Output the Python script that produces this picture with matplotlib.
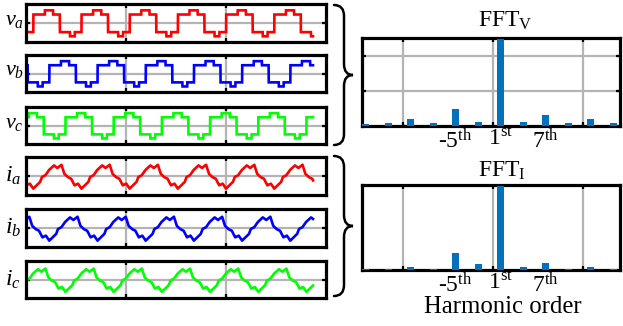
import numpy as np
import matplotlib
matplotlib.use("Agg")
import matplotlib.pyplot as plt
from matplotlib.path import Path
from matplotlib.patches import PathPatch

plt.rcParams['font.family'] = ['Liberation Serif', 'DejaVu Serif']
plt.rcParams['mathtext.fontset'] = 'custom'
plt.rcParams['mathtext.rm'] = 'Liberation Serif'
plt.rcParams['mathtext.it'] = 'Liberation Serif:italic'

W, H = 623, 326

# ---------------- data ----------------
# time axis in ms
t_end = 57.4
period = 9.64
t_limits = (0, 60)
t_grid = [20, 40]

# one period of the stepped phase voltage: segment length (fraction of period) and level
v_seg_len = [0.24, 0.17, 0.14, 0.21, 0.10, 0.14]
v_seg_lvl = [0.67, 1.00, 0.67, -0.72, -1.05, -0.72]

# one period of the phase current: phase (fraction of period) and value
i_phase = [0.000, 0.071, 0.143, 0.179, 0.250, 0.321, 0.429, 0.500,
           0.586, 0.643, 0.714, 0.786, 0.857, 0.929]
i_value = [-1.00, -0.74, -0.47, -0.08, 0.05, 0.45, 0.84, 0.63,
           0.89, 0.18, -0.08, -0.21, -0.74, -0.60]

# phase position of each waveform at t = 0 (fraction of period)
v_start = [0.849, 0.516, 0.182]
i_start = [0.850, 0.517, 0.183]

phase_names = ['a', 'b', 'c']
phase_colors = ['#ff0000', '#0000ff', '#00ff00']

# harmonic spectra (normalised to the fundamental)
orders = [-17, -14, -11, -8, -5, -2, 1, 4, 7, 10, 13, 16]
fft_v = [0.02, 0.04, 0.075, 0.04, 0.19, 0.05, 1.0, 0.045, 0.124, 0.03, 0.075, 0.04]
fft_i = [0.01, 0.01, 0.03, 0.016, 0.20, 0.07, 1.0, 0.04, 0.08, 0.01, 0.03, 0.01]
order_ticks = [-5, 1, 7]
order_labels = [r'-$5^{\rm th}$', r'$1^{\rm st}$', r'$7^{\rm th}$']
order_grid = [-12, 0, 12]
order_limits = (-17.5, 16.9)

# ---------------- helpers ----------------
t = np.linspace(0, t_end, 6000)
seg_edges = np.concatenate([[0], np.cumsum(v_seg_len)])


def stepped_voltage(start):
    ph = (t / period + start) % 1.0
    idx = np.clip(np.searchsorted(seg_edges, ph, side='right') - 1, 0, len(v_seg_lvl) - 1)
    return np.asarray(v_seg_lvl)[idx]


def phase_current(start):
    ph = (t / period + start) % 1.0
    return np.interp(ph, i_phase, i_value, period=1.0)


def px_axes(left, top, right, bottom):
    return fig.add_axes([left / W, 1 - bottom / H, (right - left) / W, (bottom - top) / H])


GRID_C = '#b4b4b4'


def style_wave_axes(ax):
    ax.set_xlim(*t_limits)
    ax.set_ylim(-1.5, 1.5)
    ax.set_xticks(t_grid)
    ax.set_yticks([0])
    ax.set_xticklabels([])
    ax.set_yticklabels([])
    ax.tick_params(direction='in', length=3, width=1.6, top=True, right=True, color='black')
    ax.grid(True, color=GRID_C, lw=1.6)
    ax.set_axisbelow(True)
    for s in ax.spines.values():
        s.set_linewidth(2.3)


fig = plt.figure(figsize=(W / 100, H / 100), dpi=100)

# ---------------- waveform panels ----------------
v_boxes = [(4, 42), (55, 92), (107, 144)]
i_boxes = [(157, 195), (209, 247), (261, 298)]

for k in range(3):
    top, bot = v_boxes[k]
    ax = px_axes(26, top, 326, bot)
    ax.plot(t, stepped_voltage(v_start[k]), color=phase_colors[k], lw=1.9,
            solid_joinstyle='miter')
    style_wave_axes(ax)
    yc = (top + bot) / 2
    fig.text(5 / W, 1 - (yc + 2) / H, rf'$v_{{{phase_names[k]}}}$', fontsize=16,
             ha='left', va='baseline', zorder=10)

for k in range(3):
    top, bot = i_boxes[k]
    ax = px_axes(26, top, 326, bot)
    ax.plot(t, phase_current(i_start[k]), color=phase_colors[k], lw=1.9)
    style_wave_axes(ax)
    yc = (top + bot) / 2
    fig.text(5 / W, 1 - (yc + 6) / H, rf'$i_{{{phase_names[k]}}}$', fontsize=17,
             ha='left', va='baseline', zorder=10)

# ---------------- braces ----------------


def brace(x_end, x_stem, x_tip, y_top, y_bot, r=11):
    ym = (y_top + y_bot) / 2
    pts = [(x_end, y_top), (x_stem, y_top), (x_stem, y_top + r),
           (x_stem, ym - r), (x_stem, ym), (x_tip, ym),
           (x_stem, ym), (x_stem, ym + r),
           (x_stem, y_bot - r), (x_stem, y_bot), (x_end, y_bot)]
    codes = [Path.MOVETO, Path.CURVE3, Path.CURVE3,
             Path.LINETO, Path.CURVE3, Path.CURVE3,
             Path.CURVE3, Path.CURVE3,
             Path.LINETO, Path.CURVE3, Path.CURVE3]
    verts = [(x / W, 1 - y / H) for x, y in pts]
    fig.add_artist(PathPatch(Path(verts, codes), transform=fig.transFigure,
                             fill=False, lw=1.8, color='black', capstyle='round'))


brace(334, 344, 353, 5, 145)
brace(334, 344, 353, 156, 296)

# ---------------- spectra ----------------


def style_fft_axes(ax, ygrid):
    ax.set_xlim(*order_limits)
    ax.set_ylim(0, 1.01)
    ax.set_xticks(order_grid)
    ax.set_xticklabels([])
    ax.set_xticks(order_ticks, minor=True)
    ax.set_xticklabels(order_labels, minor=True, fontsize=17)
    ax.tick_params(which='minor', length=0, pad=2)
    ax.tick_params(which='major', direction='in', length=3, width=1.6,
                   top=True, right=True)
    if ygrid:
        ax.set_yticks([0.4, 0.8])
        ax.grid(True, which='major', color=GRID_C, lw=1.6)
    else:
        ax.set_yticks([])
        ax.grid(True, which='major', axis='x', color=GRID_C, lw=1.6)
    ax.set_yticklabels([])
    ax.set_axisbelow(True)
    for s in ax.spines.values():
        s.set_linewidth(2.3)


ax_v = px_axes(362, 38, 620, 126)
ax_v.bar(orders, fft_v, width=0.95, color='#0072BD', zorder=3)
style_fft_axes(ax_v, True)

ax_i = px_axes(362, 185, 620, 270)
ax_i.bar(orders, fft_i, width=0.95, color='#0072BD', zorder=3)
style_fft_axes(ax_i, False)

fig.text(505 / W, 1 - 27 / H, r'FFT$_{\rm V}$', ha='center', va='baseline', fontsize=17)
fig.text(502 / W, 1 - 177 / H, r'FFT$_{\rm I}$', ha='center', va='baseline', fontsize=17)
fig.text(503 / W, 1 - 313 / H, 'Harmonic order', ha='center', va='baseline', fontsize=17.8)

fig.savefig('out.png', dpi=100)
